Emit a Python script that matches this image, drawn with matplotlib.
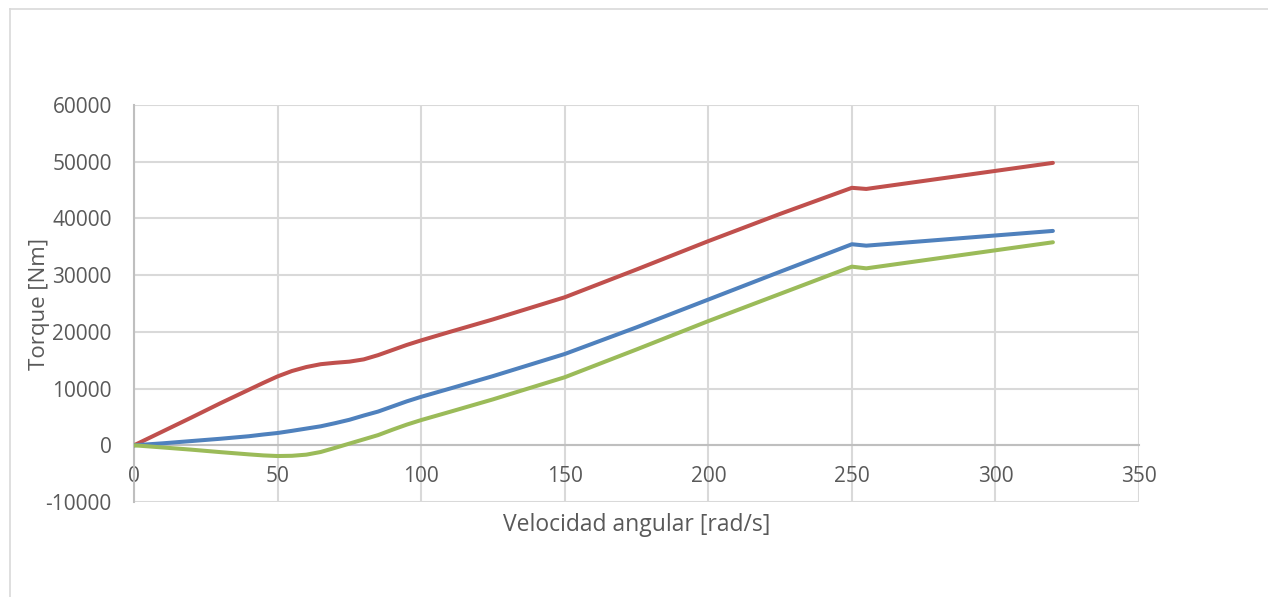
import numpy as np
import matplotlib
matplotlib.use("Agg")
import matplotlib.pyplot as plt
from matplotlib.lines import Line2D

# velocidad angular [rad/s] and torque [Nm]
vel = [0, 10, 20, 30, 40, 45, 50, 55, 60, 65, 70, 75, 80, 85, 90, 95, 100, 110,
       125, 150, 175, 200, 225, 250, 255, 320]
red = [0, 2450, 4900, 7400, 9800, 11000, 12150, 13100, 13800, 14300, 14550, 14750, 15150,
       15900, 16800, 17700, 18500, 20000, 22200, 26100, 31000, 36000, 40800, 45400, 45200, 49800]
blue = [0, 350, 750, 1150, 1600, 1900, 2170, 2550, 2950, 3350, 3900, 4500, 5250,
        5950, 6850, 7750, 8550, 10000, 12200, 16100, 20800, 25700, 30600, 35450, 35200, 37800]
green = [0, -380, -770, -1200, -1600, -1780, -1890, -1850, -1650, -1180, -450, 300, 1050,
         1800, 2750, 3650, 4450, 5900, 8100, 12000, 16900, 21900, 26700, 31500, 31200, 35800]

xticks = [0, 50, 100, 150, 200, 250, 300, 350]
yticks = [-10000, 0, 10000, 20000, 30000, 40000, 50000, 60000]

plt.rcParams['font.family'] = ['Open Sans', 'DejaVu Sans']
txt = '#595959'
grid = '#D9D9D9'

fig = plt.figure(figsize=(12.68, 5.97), dpi=100)
ax = fig.add_axes([0.1057, 0.1591, 0.7926, 0.665])

ax.plot(vel, red, color='#C0504D', linewidth=2.9, solid_capstyle='round',
        solid_joinstyle='round', zorder=3)
ax.plot(vel, blue, color='#4F81BD', linewidth=2.9, solid_capstyle='round',
        solid_joinstyle='round', zorder=3)
ax.plot(vel, green, color='#9BBB59', linewidth=2.9, solid_capstyle='round',
        solid_joinstyle='round', zorder=3)

ax.set_xlim(0, 350)
ax.set_ylim(-10000, 60000)
ax.set_xticks(xticks)
ax.set_yticks(yticks)
ax.set_xticklabels([str(v) for v in xticks])
ax.set_yticklabels([str(v) for v in yticks])
ax.grid(True, color=grid, linewidth=1.5, zorder=0)
ax.set_axisbelow(True)

for s in ['top', 'right']:
    ax.spines[s].set_visible(False)
ax.spines['bottom'].set_position(('data', 0))
ax.spines['bottom'].set_color('#BFBFBF')
ax.spines['bottom'].set_linewidth(1.5)
ax.spines['left'].set_color('#BFBFBF')
ax.spines['left'].set_linewidth(1.5)
ax.tick_params(axis='both', length=0, labelsize=15, labelcolor=txt)
ax.tick_params(axis='x', pad=15)
ax.tick_params(axis='y', pad=16)

ax.set_ylabel('Torque [Nm]', fontsize=16, color=txt)
ax.yaxis.set_label_coords(-0.0835, 0.5)
fig.text(0.502, 0.12, 'Velocidad angular [rad/s]', fontsize=16.5, color=txt,
         ha='center', va='center')

# chart frame (only top and left edges visible)
fig.add_artist(Line2D([0.0075, 1.0], [0.985, 0.985], color=grid, linewidth=1.2,
                      transform=fig.transFigure))
fig.add_artist(Line2D([0.0075, 0.0075], [0.0, 0.985], color=grid, linewidth=1.2,
                      transform=fig.transFigure))

fig.savefig('out.png', dpi=100)
